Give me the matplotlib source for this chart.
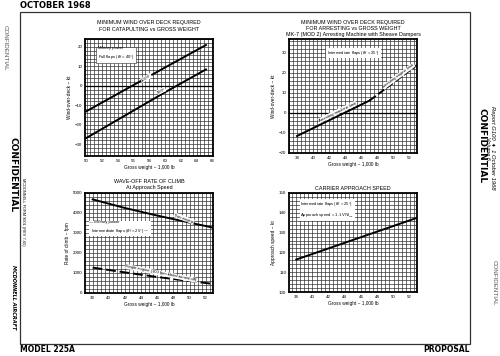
import numpy as np
import matplotlib
matplotlib.use("Agg")
import matplotlib.pyplot as plt
from matplotlib.ticker import MultipleLocator

plt.rcParams['font.family'] = ['Liberation Sans Narrow', 'Liberation Sans', 'DejaVu Sans']

# catapult chart
cat_wt = [50, 55, 60, 65.2]
cat_hot = [-13.0, -1.8, 9.4, 20.9]
cat_std = [-26.7, -15.0, -3.3, 8.4]

# arresting chart
arr_cable_wt = [38, 47]
arr_cable = [-11.5, 6.2]
arr_mach_wt = [47, 52.9]
arr_mach = [6.2, 24.0]

# wave-off climb
woc_wt = [38, 42, 46, 50, 53]
woc_two = [4680, 4250, 3870, 3520, 3260]
woc_one = [1270, 1030, 800, 600, 450]

# approach speed
app_wt = [38, 53]
app_kt = [116.4, 137.6]

W, H = 500, 356
fig = plt.figure(figsize=(5, 3.56), dpi=100)


def box(l, t, r, b):
    return [l / W, 1 - b / H, (r - l) / W, (b - t) / H]


def setup(ax, xlim, ylim, xmaj, ymaj, xmin, ymin, ylab):
    ax.set_xlim(*xlim)
    ax.set_ylim(*ylim)
    ax.xaxis.set_major_locator(MultipleLocator(xmaj))
    ax.yaxis.set_major_locator(MultipleLocator(ymaj))
    ax.xaxis.set_minor_locator(MultipleLocator(xmin))
    ax.yaxis.set_minor_locator(MultipleLocator(ymin))
    ax.grid(which='both', color='#222222', lw=0.45)
    ax.tick_params(which='both', length=0, labelsize=3.2, pad=2)
    for s in ax.spines.values():
        s.set_linewidth(1.3)
    ax.set_xlabel('Gross weight ~ 1,000 lb', fontsize=3.4, labelpad=1.5)
    ax.set_ylabel(ylab, fontsize=3.4, labelpad=2)


def line_label(ax, x, y, x2, y2, txt, **kw):
    p1 = ax.transData.transform((x, y))
    p2 = ax.transData.transform((x2, y2))
    ang = np.degrees(np.arctan2(p2[1] - p1[1], p2[0] - p1[0]))
    ax.text(x, y, txt, rotation=ang, rotation_mode='anchor', ha='center', va='center',
            fontsize=3.0, bbox=dict(fc='white', ec='none', pad=0.3), **kw)


box_kw = dict(fc='white', ec='#222222', lw=0.4, pad=1.0)

# --- catapult
ax1 = fig.add_axes(box(85, 39, 213, 156))
setup(ax1, (49.8, 66.1), (-36, 24), 2, 10, 0.5, 2, 'Wind-over-deck ~ kt')
ax1.axhline(0, color='black', lw=0.9)
ax1.plot(cat_wt, cat_hot, color='black', lw=1.4)
ax1.plot(cat_wt, cat_std, color='black', lw=1.4)
line_label(ax1, 57.6, 4.0, 60, 9.4, '103°F')
line_label(ax1, 59.5, -2.6, 62, 2.2, '59°F')
ax1.text(51.4, 16.5, 'Military power\nFull flaps ($\\delta_f$ = 40°)', fontsize=3.0,
         va='center', linespacing=1.6, bbox=box_kw)
ax1.set_title('MINIMUM WIND OVER DECK REQUIRED\nFOR CATAPULTING vs GROSS WEIGHT',
              fontsize=3.9, linespacing=1.35, pad=6)

# --- arresting
ax2 = fig.add_axes(box(289, 39, 417, 153))
setup(ax2, (37.0, 52.9), (-20, 37), 2, 10, 0.5, 2, 'Wind-over-deck ~ kt')
ax2.axhline(0, color='black', lw=0.9)
ax2.plot(arr_cable_wt, arr_cable, color='black', lw=1.4)
ax2.plot(arr_mach_wt, arr_mach, color='black', lw=1.4, ls=(0, (4, 1.5)))
line_label(ax2, 43.0, 0.5, 45, 4.4, 'Arresting machine limit')
line_label(ax2, 50.6, 18.5, 52, 22.7, 'Arresting engine limit')
ax2.text(45, 30, 'Intermediate flaps ($\\delta_f$ = 25°)', fontsize=3.0, ha='center',
         va='center', bbox=dict(fc='white', ec='none', pad=0.5))
ax2.set_title('MINIMUM WIND OVER DECK REQUIRED\nFOR ARRESTING vs GROSS WEIGHT\n'
              'MK-7 (MOD 2) Arresting Machine with Sheave Dampers',
              fontsize=3.9, linespacing=1.3, pad=2)

# --- wave-off
ax3 = fig.add_axes(box(85, 193, 213, 293))
setup(ax3, (37.05, 52.9), (0, 5000), 2, 1000, 0.5, 200, 'Rate of climb ~ fpm')
ax3.plot(woc_wt, woc_two, color='black', lw=1.4)
ax3.plot(woc_wt, woc_one, color='black', lw=1.4, ls=(0, (5, 2)))
line_label(ax3, 49.3, 3730, 51, 3470, 'Two engine')
line_label(ax3, 46.5, 980, 48, 860, 'Single engine (100 fpm bleed turned off)')
ax3.text(37.6, 3270, '— Military power\n  Intermediate flaps ($\\delta_f$ = 25°) —', fontsize=3.0,
         va='center', linespacing=1.6, bbox=dict(fc='white', ec='none', pad=0.5))
ax3.set_title('WAVE-OFF RATE OF CLIMB\nAt Approach Speed', fontsize=3.9, linespacing=1.3, pad=3)

# --- approach speed
ax4 = fig.add_axes(box(289, 193, 417, 292))
setup(ax4, (37.1, 52.9), (100, 150), 2, 10, 0.5, 2, 'Approach speed ~ kt')
ax4.plot(app_wt, app_kt, color='black', lw=1.4)
ax4.text(38.5, 146.5, 'Intermediate flaps ($\\delta_f$ = 25°)\nApproach speed = 1.1 V$_{PA_{min}}$',
         fontsize=3.0, va='top', linespacing=1.8, bbox=dict(fc='white', ec='none', pad=0.5))
ax4.set_title('CARRIER APPROACH SPEED', fontsize=3.9, pad=2)

# --- page furniture
frame = plt.Rectangle((20 / W, 1 - 344 / H), 450 / W, 332 / H, transform=fig.transFigure,
                      fill=False, ec='#333333', lw=0.9)
fig.add_artist(frame)
fig.text(20 / W, 1 - 5 / H, 'OCTOBER 1968', fontsize=6, weight='bold', va='center',
         family='DejaVu Sans')
fig.text(20 / W, 1 - 350 / H, 'MODEL 225A', fontsize=5.5, weight='bold', va='center',
         family='DejaVu Sans')
fig.text(470 / W, 1 - 350 / H, 'PROPOSAL', fontsize=5.5, weight='bold', va='center', ha='right',
         family='DejaVu Sans')
fig.text(5 / W, 1 - 48 / H, 'CONFIDENTIAL', fontsize=4.5, rotation=270, ha='center', va='center',
         color='#555555')
fig.text(13 / W, 1 - 175 / H, 'CONFIDENTIAL', fontsize=6.5, weight='bold', rotation=270,
         ha='center', va='center', family='DejaVu Sans')
fig.text(23 / W, 1 - 212 / H, 'MCDONNELL FORM 9001 (REV 7-65)', fontsize=2.8, rotation=270,
         ha='center', va='center')
fig.text(13 / W, 1 - 297 / H, 'MCDONNELL AIRCRAFT', fontsize=3.6, weight='bold', style='italic',
         rotation=270, ha='center', va='center', family='DejaVu Sans')
fig.text(493 / W, 1 - 148 / H, 'Report G100  \u2666  1 October 1968', fontsize=4.2, style='italic',
         rotation=270, ha='center', va='center')
fig.text(488 / W, 1 - 148 / H, 'Volume 6', fontsize=4, style='italic', rotation=270,
         ha='center', va='center')
fig.text(482 / W, 1 - 146 / H, 'CONFIDENTIAL', fontsize=6.5, weight='bold', rotation=270,
         ha='center', va='center', family='DejaVu Sans')
fig.text(494 / W, 1 - 283 / H, 'CONFIDENTIAL', fontsize=4.5, rotation=270, ha='center', va='center',
         color='#555555')

fig.savefig('out.png', dpi=100)
